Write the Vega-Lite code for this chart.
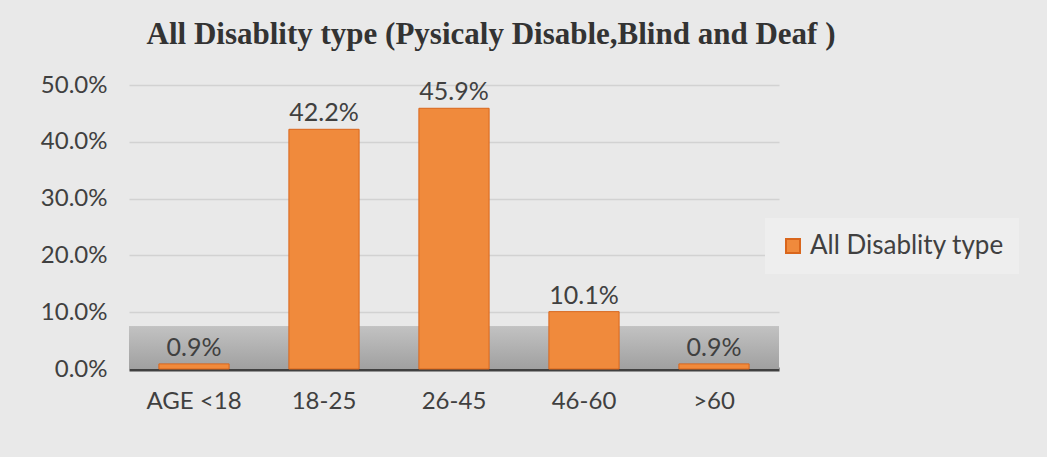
{
  "$schema": "https://vega.github.io/schema/vega-lite/v6.json",
  "width": 650,
  "height": 284,
  "padding": {"left": 40, "top": 19, "right": 31, "bottom": 45},
  "background": "#e9e9e9",
  "title": {
    "text": "All Disablity type (Pysicaly Disable,Blind and Deaf )",
    "font": "Liberation Serif",
    "fontSize": 31,
    "fontWeight": "bold",
    "color": "#333333",
    "anchor": "middle",
    "dx": 37,
    "offset": 22
  },
  "data": {
    "values": [
      {"age": "AGE <18", "pct": 0.009, "series": "All Disablity type"},
      {"age": "18-25", "pct": 0.422, "series": "All Disablity type"},
      {"age": "26-45", "pct": 0.459, "series": "All Disablity type"},
      {"age": "46-60", "pct": 0.101, "series": "All Disablity type"},
      {"age": ">60", "pct": 0.009, "series": "All Disablity type"}
    ]
  },
  "encoding": {
    "x": {
      "field": "age",
      "type": "nominal",
      "sort": null,
      "scale": {"paddingInner": 0.46, "paddingOuter": 0.23},
      "axis": {
        "title": null,
        "labelAngle": 0,
        "labelFont": "Lato",
        "labelFontSize": 24,
        "labelColor": "#404040",
        "ticks": false,
        "labelPadding": 20,
        "domainColor": "#404040",
        "domainWidth": 4
      }
    }
  },
  "layer": [
    {
      "mark": {
        "type": "rect",
        "color": {
          "gradient": "linear",
          "x1": 0, "y1": 0, "x2": 0, "y2": 1,
          "stops": [
            {"offset": 0, "color": "#c2c2c2"},
            {"offset": 1, "color": "#a0a0a0"}
          ]
        }
      },
      "encoding": {
        "x": null,
        "y": {
          "datum": 0,
          "type": "quantitative",
          "scale": {"domain": [0, 0.5]},
          "axis": {
            "title": null,
            "format": ".1%",
            "values": [0, 0.1, 0.2, 0.3, 0.4, 0.5],
            "labelFont": "Lato",
            "labelFontSize": 24,
            "labelColor": "#404040",
            "labelOverlap": false,
            "ticks": false,
            "domain": false,
            "labelPadding": 22,
            "grid": true,
            "gridColor": "#d2d2d2",
            "gridWidth": 1.5
          }
        },
        "y2": {"datum": 0.075}
      }
    },
    {
      "mark": {
        "type": "bar",
        "stroke": "#d9661c",
        "strokeWidth": 1,
        "color": {
          "gradient": "linear",
          "x1": 0, "y1": 0, "x2": 1, "y2": 0,
          "stops": [
            {"offset": 0, "color": "#e36f22"},
            {"offset": 0.45, "color": "#f9a466"},
            {"offset": 1, "color": "#e8762a"}
          ]
        }
      },
      "encoding": {
        "y": {
          "field": "pct",
          "type": "quantitative",
          "scale": {"domain": [0, 0.5]},
          "axis": {
            "title": null,
            "format": ".1%",
            "values": [0, 0.1, 0.2, 0.3, 0.4, 0.5],
            "labelFont": "Lato",
            "labelFontSize": 24,
            "labelColor": "#404040",
            "labelOverlap": false,
            "ticks": false,
            "domain": false,
            "labelPadding": 22,
            "grid": true,
            "gridColor": "#d2d2d2",
            "gridWidth": 1.5
          }
        },
        "fill": {
          "field": "series",
          "type": "nominal",
          "scale": {"range": ["#f08a3c"]},
          "legend": {
            "title": null,
            "orient": "none",
            "legendX": 636,
            "legendY": 133,
            "fillColor": "#eeeeee",
            "padding": 15,
            "symbolType": "square",
            "symbolSize": 196,
            "symbolStrokeColor": "#d9661c",
            "symbolStrokeWidth": 2,
            "labelFont": "Lato",
            "labelFontSize": 26,
            "labelColor": "#404040",
            "labelLimit": 300
          }
        }
      }
    },
    {
      "mark": {"type": "text", "dy": -16, "font": "Lato", "fontSize": 25, "color": "#404040"},
      "encoding": {
        "y": {"field": "pct", "type": "quantitative"},
        "text": {"field": "pct", "type": "quantitative", "format": ".1%"}
      }
    }
  ],
  "config": {
    "view": {"stroke": null}
  }
}
